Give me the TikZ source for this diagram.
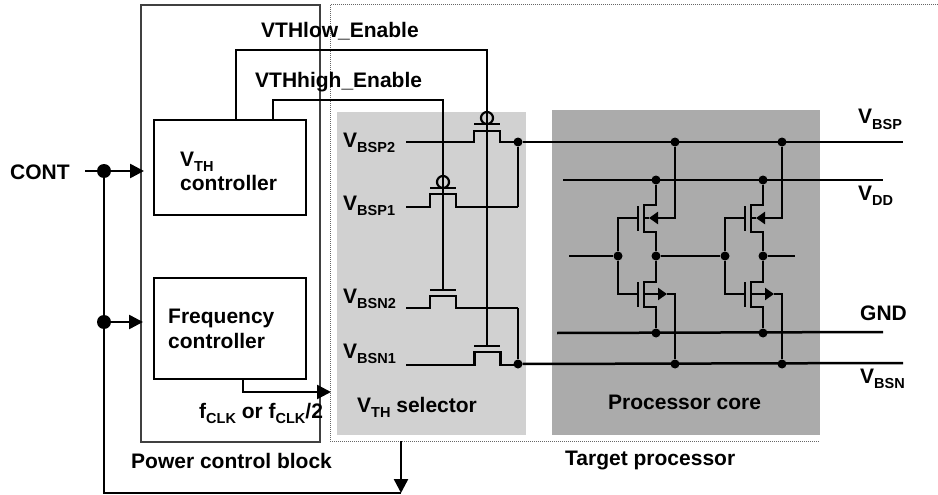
\documentclass[tikz,border=0pt]{standalone}
\usepackage{fontspec}
\setmainfont{Liberation Sans}
\usetikzlibrary{arrows.meta}

\newcommand{\vlabel}[2]{#1\raisebox{-0.28em}{\fontsize{14.5}{14.5}\selectfont #2}}

\tikzset{
	wire/.style = {line width = 2.5pt, black},
	tipped/.style = {wire, -{Triangle[length = 14pt, width = 14pt]}},
	smalltip/.style = {wire, -{Triangle[length = 9pt, width = 12pt]}},
	box/.style = {draw, black, line width = 1.5pt, inner sep = 0pt},
	dot/.style = {circle, fill = black, inner sep = 0pt, minimum size = 9pt},
	bigdot/.style = {dot, minimum size = 14pt},
	lbl/.style = {anchor = base west, inner sep = 0pt, font = \fontsize{21}{21}\selectfont\bfseries}
}

\begin{document}
\begin{tikzpicture}[x = 1pt, y = -1pt]
	\useasboundingbox (0, 0) rectangle (938, 495);

	% shaded regions
	\fill[black!18] (337, 112) rectangle (526, 435);
	\fill[black!33] (552, 110) rectangle (820, 435);
	\draw[black!60, line width = 1pt, densely dotted] (938, 5) -- (330, 5) -- (330, 441) -- (820, 441);
	\draw[black!75, line width = 1.2pt] (141, 5) rectangle (320, 442);

	% blocks
	\node[box, minimum width = 152pt, minimum height = 95pt] (vthbox) at (230, 167.5) {};
	\node[box, minimum width = 152pt, minimum height = 101pt] (freqbox) at (230, 328.5) {};
	\coordinate (lowout) at (236, 120);
	\coordinate (highout) at (273, 120);
	\coordinate (freqout) at (243, 379);
	\coordinate (clkend) at (331, 392);

	% control inputs
	\coordinate (contstart) at (85, 171);
	\coordinate (contend) at (144, 171);
	\coordinate (freqend) at (143, 322);
	\coordinate (blockout) at (401, 441);
	\coordinate (loopend) at (401, 493);
	\node[bigdot] (contdot) at (104, 171) {};
	\node[bigdot] (freqdot) at (104, 322) {};
	\draw[tipped] (contstart) -- (contend);
	\draw[tipped] (freqdot) -- (freqend);
	\draw[wire] (contdot) -- (freqdot);
	\draw[wire] (freqdot) |- (loopend);
	\draw[tipped] (blockout) -- (loopend);
	\draw[tipped] (freqout) |- (clkend);

	% selector switches
	\coordinate (pa) at (487, 142);
	\coordinate (pb) at (443, 207);
	\coordinate (na) at (443, 308);
	\coordinate (nb) at (487.5, 365);
	\node[dot] (bspsel) at (518, 142) {};
	\node[dot] (bsnsel) at (518, 364) {};
	\coordinate (bspend) at (903, 142);
	\coordinate (bsnend) at (903, 363);
	\foreach \sw/\top in {pa/131, pb/194, na/296, nb/352}
		\draw[wire] (406, 0 |- \sw) -- ([xshift = -13pt] \sw) -- ([xshift = -13pt] \sw |- 0, \top) -- ([xshift = 13pt] \sw |- 0, \top) -- ([xshift = 13pt] \sw) -- (\sw -| bspsel);
	\draw[wire] (bspsel) -- (bspend);
	\draw[wire] (bsnsel) -- (bsnend);
	\draw[wire] (bspsel) -- (pb -| bspsel);
	\draw[wire] (bsnsel) -- (na -| bsnsel);

	% enable lines and gates
	\draw[wire] (lowout) |- (487, 50) -- (487, 346);
	\draw[wire] (highout) |- (443, 100) -- (443, 290);
	\foreach \gx/\gy in {487/124, 443/188, 443/290, 487/346}
		\draw[wire] (\gx - 13, \gy) -- (\gx + 13, \gy);
	\foreach \gx/\gy in {487/118, 443/182}
		\draw[line width = 2.2pt] (\gx, \gy) circle (6);

	% rails of the core
	\coordinate (vddleft) at (563, 180);
	\coordinate (vddend) at (883, 180);
	\coordinate (gndleft) at (557, 333);
	\coordinate (gndend) at (883, 332);
	\draw[wire] (vddleft) -- (vddend);
	\draw[wire] (gndleft) -- (gndend);

	% two inverters
	\foreach \id/\dx/\bx in {a/656/675, b/763/782} {
		\node[dot] (bsp\id) at (\bx, 142) {};
		\node[dot] (bsn\id) at (\bx, 364) {};
		\node[dot] (vdd\id) at (\dx, 180) {};
		\node[dot] (gnd\id) at (\dx, 333) {};
		\node[dot] (out\id) at (\dx, 256) {};
		\node[dot] (in\id) at (\dx - 38, 256) {};
		\draw[wire] (vdd\id) -- ++(0, 25) -- ++(-12, 0) -- ++(0, 27) -- ++(12, 0) -- (out\id);
		\draw[wire] (out\id) -- ++(0, 26) -- ++(-12, 0) -- ++(0, 25) -- ++(12, 0) -- (gnd\id);
		\draw[wire] (\dx - 18, 206) -- (\dx - 18, 231);
		\draw[wire] (\dx - 18, 282) -- (\dx - 18, 307);
		\draw[wire] (in\id) |- (\dx - 18, 218);
		\draw[wire] (in\id) |- (\dx - 18, 294);
		\draw[smalltip] (bsp\id) |- (\dx - 7, 218);
		\draw[wire] (\dx - 7, 218) -- (\dx - 12, 218);
		\draw[smalltip] (\dx - 12, 294) -- (\dx + 11, 294);
		\draw[wire] (\dx + 11, 294) -| (bsn\id);
	}
	\coordinate (inleft) at (569, 256);
	\coordinate (outright) at (795, 256);
	\draw[wire] (inleft) -- (ina);
	\draw[wire] (outa) -- (inb);
	\draw[wire] (outb) -- (outright);

	% labels
	\node[lbl] (contlbl) at (10, 179) {CONT};
	\node[lbl] (vthlbl) at (180, 166) {\vlabel{V}{TH}};
	\node[lbl] (ctrllbl) at (180, 190) {controller};
	\node[lbl] (freqlbl) at (168, 323) {Frequency};
	\node[lbl] (fctrllbl) at (168, 348) {controller};
	\node[lbl] (clklbl) at (199, 418) {\vlabel{f}{CLK} or \vlabel{f}{CLK}/2};
	\node[lbl] (blocklbl) at (131, 468) {Power control block};
	\node[lbl] (lowlbl) at (261, 38) {VTHlow\_Enable};
	\node[lbl] (highlbl) at (255, 88) {VTHhigh\_Enable};
	\node[lbl] (bsptwo) at (343, 147) {\vlabel{V}{BSP2}};
	\node[lbl] (bspone) at (343, 210) {\vlabel{V}{BSP1}};
	\node[lbl] (bsntwo) at (343, 303) {\vlabel{V}{BSN2}};
	\node[lbl] (bsnone) at (343, 358) {\vlabel{V}{BSN1}};
	\node[lbl] (sellbl) at (357, 412) {\vlabel{V}{TH} selector};
	\node[lbl] (corelbl) at (608, 409) {Processor core};
	\node[lbl] (targetlbl) at (565, 465) {Target processor};
	\node[lbl] (vbsplbl) at (858, 124) {\vlabel{V}{BSP}};
	\node[lbl] (vddlbl) at (858, 200) {\vlabel{V}{DD}};
	\node[lbl] (gndlbl) at (860, 320) {GND};
	\node[lbl] (vbsnlbl) at (860, 383) {\vlabel{V}{BSN}};
\end{tikzpicture}
\end{document}
